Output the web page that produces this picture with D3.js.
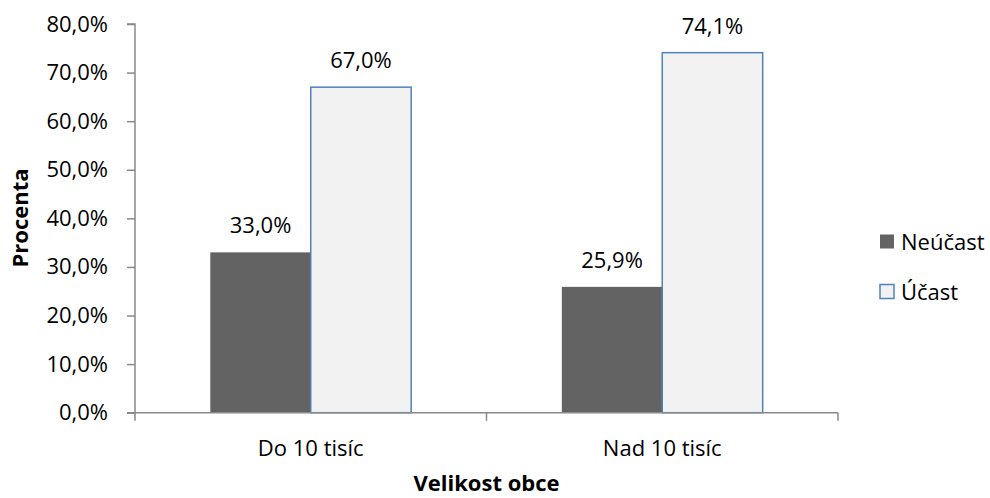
<!DOCTYPE html>
<html><head><meta charset="utf-8">
<script src="https://cdn.jsdelivr.net/npm/d3@7"></script>
<style>body{margin:0;background:#fff}svg{display:block}text{font-family:"Open Sans","Liberation Sans",sans-serif;fill:#000}</style>
</head><body>
<svg id="c" width="990" height="498"></svg>
<script>
const categories = ["Do 10 tisíc", "Nad 10 tisíc"];
const seriesNames = ["Neúčast", "Účast"];
const neucast = [0.330, 0.259];
const ucast = [0.670, 0.741];
const yTicks = [0, 0.1, 0.2, 0.3, 0.4, 0.5, 0.6, 0.7, 0.8];
const xTitle = "Velikost obce";
const yTitle = "Procenta";

const seriesValues = [neucast, ucast];
const fills = ["#636363", "#f2f2f2"];
const strokes = ["none", "#4f81bd"];

const loc = d3.formatLocale({decimal: ",", thousands: " ", grouping: [3], currency: ["", ""], percent: "%"});
const fmt = loc.format(".1%");

const FS = 22;
const svg = d3.select("#c");
const L = 135, R = 838, T = 24, B = 412.7;
const x0 = d3.scaleBand().domain(categories).range([L, R]);
const x1 = d3.scaleBand().domain(seriesNames).range([0, x0.bandwidth()]).paddingOuter(0.75);
const y = d3.scaleLinear().domain([0, 0.8]).range([B, T]);

const axisColor = "#898989";

// bars
categories.forEach((c, i) => {
  seriesNames.forEach((s, j) => {
    const v = seriesValues[j][i];
    const bx = x0(c) + x1(s);
    svg.append("rect")
      .attr("x", bx).attr("y", y(v))
      .attr("width", x1.bandwidth()).attr("height", B - y(v))
      .attr("fill", fills[j])
      .attr("stroke", strokes[j]).attr("stroke-width", strokes[j] === "none" ? 0 : 1.5);
    svg.append("text")
      .attr("x", bx + x1.bandwidth() / 2).attr("y", y(v) - 19)
      .attr("text-anchor", "middle").attr("font-size", FS)
      .text(fmt(v));
  });
});

// y axis
const yAxis = svg.append("g").attr("transform", `translate(${L},0)`)
  .call(d3.axisLeft(y).tickValues(yTicks).tickFormat(fmt).tickSize(8).tickPadding(19));
yAxis.selectAll("path,line").attr("stroke", axisColor).attr("stroke-width", 1.5);
yAxis.select(".domain").attr("d", `M-8,${T}H0V${B}H-8`);
yAxis.selectAll("text").attr("font-size", FS).attr("fill", "#000")
  .attr("font-family", '"Open Sans","Liberation Sans",sans-serif');

// x axis
const xg = svg.append("g").attr("transform", `translate(0,${B})`);
xg.append("line").attr("x1", L).attr("x2", R).attr("y1", 0).attr("y2", 0)
  .attr("stroke", axisColor).attr("stroke-width", 1.5);
const bounds = [L, ...categories.map(c => x0(c) + x0.bandwidth())];
bounds.forEach(b => xg.append("line").attr("x1", b).attr("x2", b).attr("y1", 0).attr("y2", 8)
  .attr("stroke", axisColor).attr("stroke-width", 1.5));
categories.forEach(c => xg.append("text")
  .attr("x", x0(c) + x0.bandwidth() / 2).attr("y", 43)
  .attr("text-anchor", "middle").attr("font-size", FS).text(c));

// titles
svg.append("text").attr("x", (L + R) / 2).attr("y", 491)
  .attr("text-anchor", "middle").attr("font-size", FS).attr("font-weight", "bold").text(xTitle);
svg.append("text").attr("transform", `translate(28,218) rotate(-90)`)
  .attr("text-anchor", "middle").attr("font-size", FS).attr("font-weight", "bold").text(yTitle);

// legend
seriesNames.forEach((s, j) => {
  const cy = 242 + j * 50;
  svg.append("rect").attr("x", 880).attr("y", cy - 7.5).attr("width", 14).attr("height", 14)
    .attr("fill", fills[j]).attr("stroke", strokes[j]).attr("stroke-width", strokes[j] === "none" ? 0 : 1.5);
  svg.append("text").attr("x", 901).attr("y", cy + 8).attr("font-size", FS).text(s);
});
</script>
</body></html>
